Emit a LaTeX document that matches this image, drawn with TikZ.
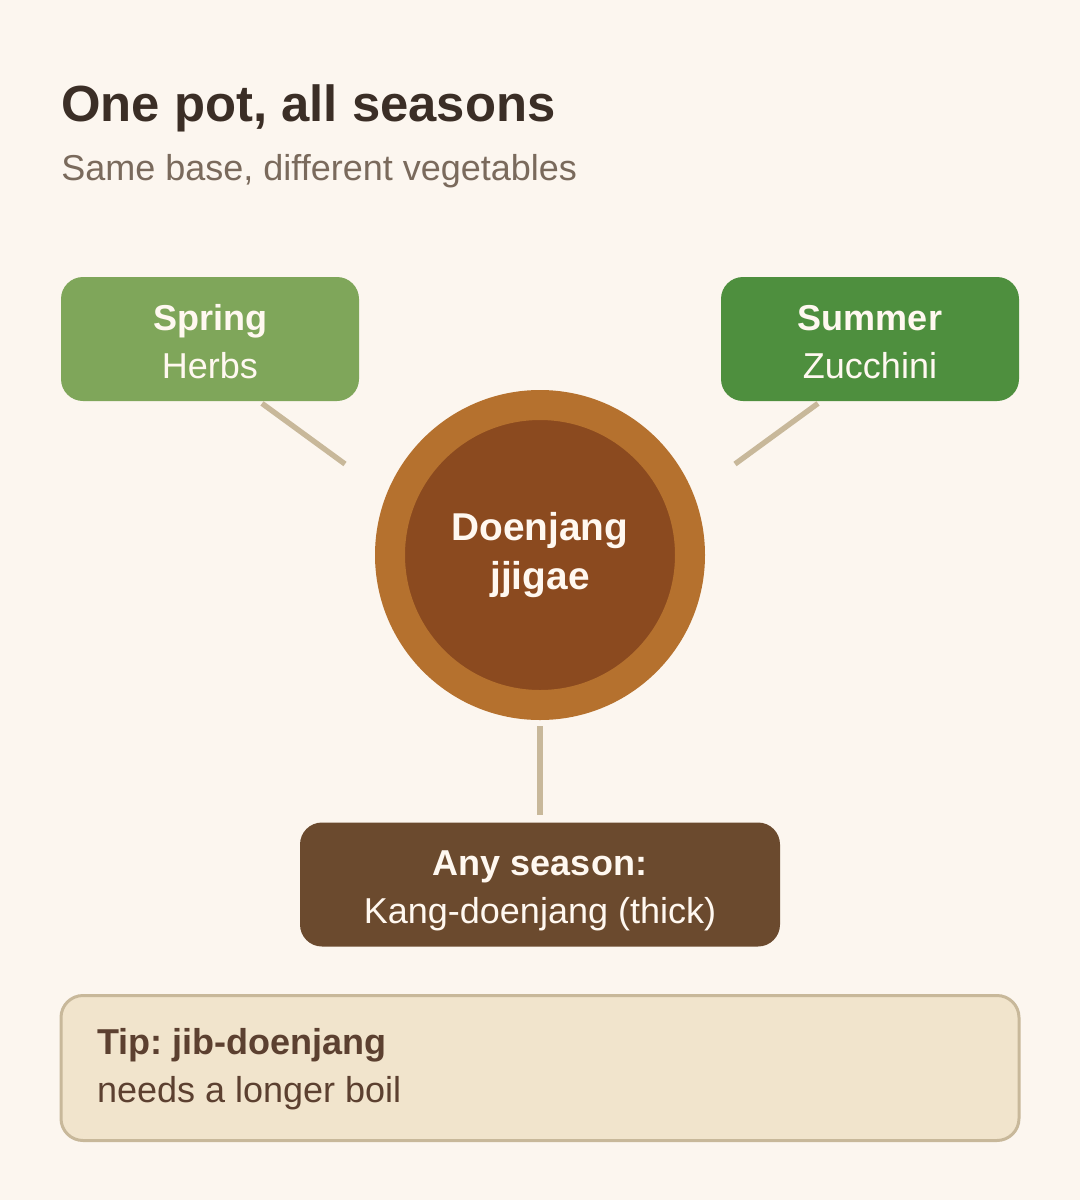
\documentclass[tikz,border=0pt]{standalone}
\usepackage{fontspec}
\setmainfont{Liberation Sans}
\usetikzlibrary{calc}
\frenchspacing

\definecolor{paper}{HTML}{FCF6EF}
\definecolor{inkdark}{HTML}{3B2E26}
\definecolor{inksoft}{HTML}{7A6A5C}
\definecolor{springgreen}{HTML}{7FA65A}
\definecolor{summergreen}{HTML}{4E8F3E}
\definecolor{potrim}{HTML}{B5712E}
\definecolor{potcore}{HTML}{8B4A1F}
\definecolor{anybrown}{HTML}{6B4A2E}
\definecolor{tipfill}{HTML}{F1E4CC}
\definecolor{tipline}{HTML}{C8B89A}
\definecolor{tipink}{HTML}{5C4030}
\definecolor{cream}{HTML}{FFF8F0}

% two lines with a fixed first-line height and no last-line depth
\newcommand{\boxlines}[2]{\rule{0pt}{15.25pt}\textbf{#1}\\\smash{#2}}

\tikzset{
  season/.style={rounded corners=11pt, minimum width=149pt, minimum height=62pt,
    inner sep=0pt, align=center, text=cream, font=\fontsize{18}{24}\selectfont},
  link/.style={draw=tipline, line width=2.7pt},
}

\begin{document}
\begin{tikzpicture}[x=0.5pt, y=-0.5pt]
\fill[paper] (0,0) rectangle (1080,1200);
\useasboundingbox (0,0) rectangle (1080,1200);

% heading
\node[anchor=base west, inner sep=0pt, text=inkdark, font=\bfseries\fontsize{25.4}{30}\selectfont] (title) at (61,121) {One pot, all seasons};
\node[anchor=base west, inner sep=0pt, text=inksoft, font=\fontsize{18}{22}\selectfont] (subtitle) at (61,180) {Same base, different vegetables};

% seasons
\node[season, fill=springgreen] (spring) at (210,339) {\boxlines{Spring}{Herbs}};
\node[season, fill=summergreen] (summer) at (870,339) {\boxlines{Summer}{Zucchini}};
\node[season, fill=anybrown, minimum width=240pt] (any) at (540,884.5) {\boxlines{Any season:}{Kang-doenjang (thick)}};

% the pot
\node[circle, draw=potrim, fill=potcore, line width=15pt, minimum size=150pt, inner sep=0pt,
  align=center, text=cream, font=\bfseries\fontsize{19.4}{24.5}\selectfont] (pot) at (540,555) {Doenjang\\jjigae};

% links
\draw[link] ($(spring.south)+(52,2)$) -- ($(pot)+(-195,-91)$);
\draw[link] ($(summer.south)+(-52,2)$) -- ($(pot)+(195,-91)$);
\draw[link] ($(pot.south)+(0,6)$) -- ($(any.north)+(0,-7)$);

% tip
\node[rounded corners=11pt, draw=tipline, line width=1.5pt, fill=tipfill, minimum width=479pt, minimum height=72.5pt,
  inner xsep=18pt, inner ysep=0pt, text width=443pt, align=flush left, text=tipink,
  font=\fontsize{18}{24}\selectfont] (tip) at (540,1068) {\rule{0pt}{14pt}\textbf{Tip: jib-doenjang}\\needs a longer boil\rule[-2pt]{0pt}{2pt}};
\end{tikzpicture}
\end{document}
